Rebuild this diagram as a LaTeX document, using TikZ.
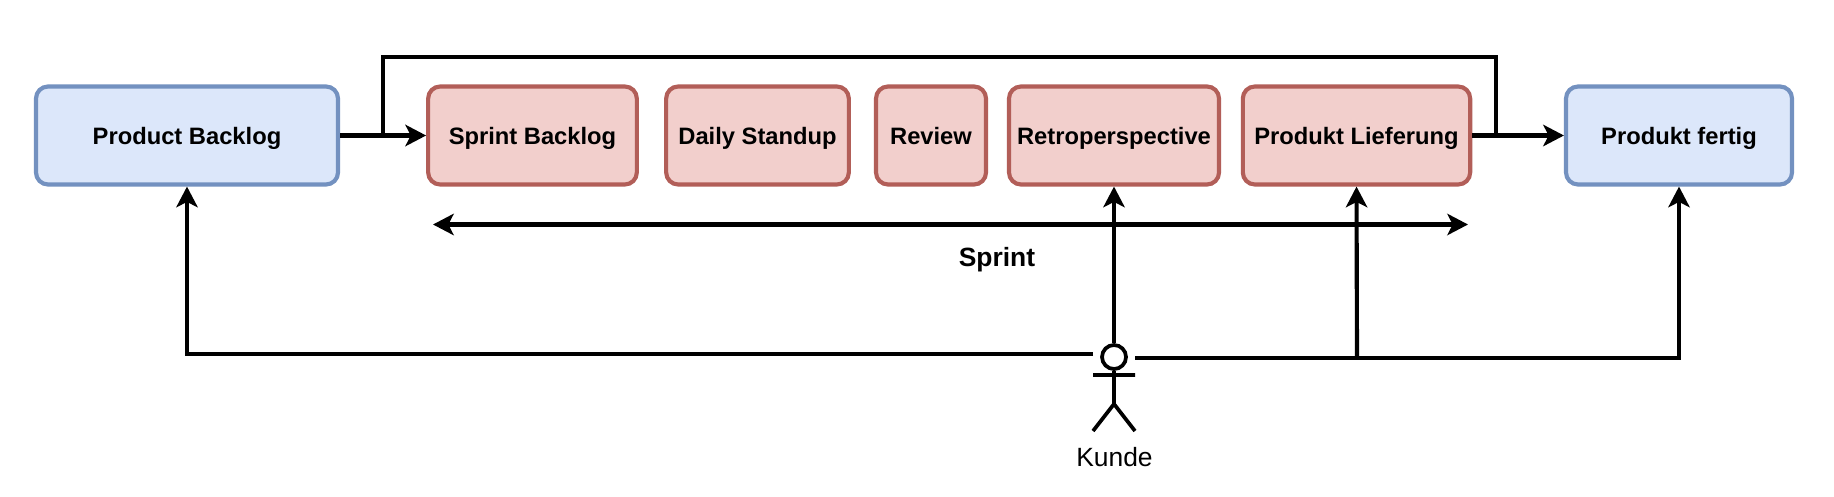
\documentclass[tikz,border=0pt]{standalone}
\usepackage{fontspec}
\setmainfont{Liberation Sans}
\usetikzlibrary{arrows.meta,positioning}
\definecolor{bluefill}{HTML}{DCE7FA}
\definecolor{blueline}{HTML}{7391C0}
\definecolor{redfill}{HTML}{F2CFCC}
\definecolor{redline}{HTML}{B25E58}
\tikzset{
  x=0.75pt,y=-0.75pt,
  box/.style={rounded corners=9pt,line width=3.1pt,inner sep=0pt,outer sep=1.55pt,text height=12.9pt,text depth=0pt,font=\fontsize{17.8}{21}\selectfont\bfseries,text=black},
  bluebox/.style={box,draw=blueline,fill=bluefill},
  redbox/.style={box,draw=redline,fill=redfill},
  conn/.style={line width=3.1pt,draw=black,line cap=butt,line join=miter},
  tip/.style={conn,-{Stealth[length=15.5pt,width=16pt,inset=4pt]}},
  dbl/.style={conn,{Stealth[length=15.5pt,width=16pt,inset=4pt]}-{Stealth[length=15.5pt,width=16pt,inset=4pt]}},
  figure/.style={line width=2.8pt,draw=black}
}
\begin{document}
\begin{tikzpicture}
\useasboundingbox (0,0) rectangle (1834,496);
\fill[white] (0,0) rectangle (1834,496);
\node[bluebox,minimum width=226.5pt,minimum height=73.5pt] (pb) at (187,135.5) {Product Backlog};
\node[redbox,minimum width=156.5pt,minimum height=73.5pt] (sb) at (532.5,135.5) {Sprint Backlog};
\node[redbox,minimum width=137pt,minimum height=73.5pt] (ds) at (757.5,135.5) {Daily Standup};
\node[redbox,minimum width=82.5pt,minimum height=73.5pt] (rv) at (931,135.5) {Review};
\node[redbox,minimum width=157.5pt,minimum height=73.5pt] (rp) at (1114,135.5) {Retroperspective};
\node[redbox,minimum width=170.5pt,minimum height=73.5pt] (pl) at (1356.5,135.5) {Produkt Lieferung};
\node[bluebox,minimum width=169.5pt,minimum height=73.5pt] (pf) at (1679,135.5) {Produkt fertig};
% actor
\node[circle,draw=black,line width=2.8pt,minimum size=18pt,inner sep=0pt,fill=white] (head) at (1114,357) {};
\coordinate (body) at (1114,404);
\coordinate (armL) at (1093,375);
\coordinate (armR) at (1135,375);
\coordinate (legL) at (1093,431);
\coordinate (legR) at (1135,431);
\draw[figure] (head) -- (body) (armL) -- (armR) (legL) -- (body) -- (legR);
\node[font=\fontsize{19.8}{24}\selectfont] (kunde) at (1114.5,457) {Kunde};
% connectors
\coordinate (lineL) at (1093,354);
\coordinate (lineR) at (1135,358);
\coordinate (branch) at (1357,358);
\coordinate (loopA) at (383,135.5);
\coordinate (loopAt) at (383,57);
\coordinate (loopBt) at (1496,57);
\coordinate (loopB) at (1496,135.5);
\coordinate (sprintL) at (433,224.5);
\coordinate (sprintR) at (1468,224.5);
\draw[conn] (loopA) -- (loopAt) -- (loopBt) -- (loopB);
\draw[tip] (pb.east) -- (sb.west);
\draw[tip] (pl.east) -- (pf.west);
\draw[dbl] (sprintL) -- (sprintR);
\node[font=\fontsize{19.8}{24}\selectfont\bfseries] (sprint) at (997,259.5) {Sprint};
\draw[tip] (head.north) -- (rp.south);
\draw[tip] (lineL) -| (pb.south);
\draw[tip] (lineR) -| (pf.south);
\draw[tip] (branch) -- (pl.south);
\end{tikzpicture}
\end{document}
